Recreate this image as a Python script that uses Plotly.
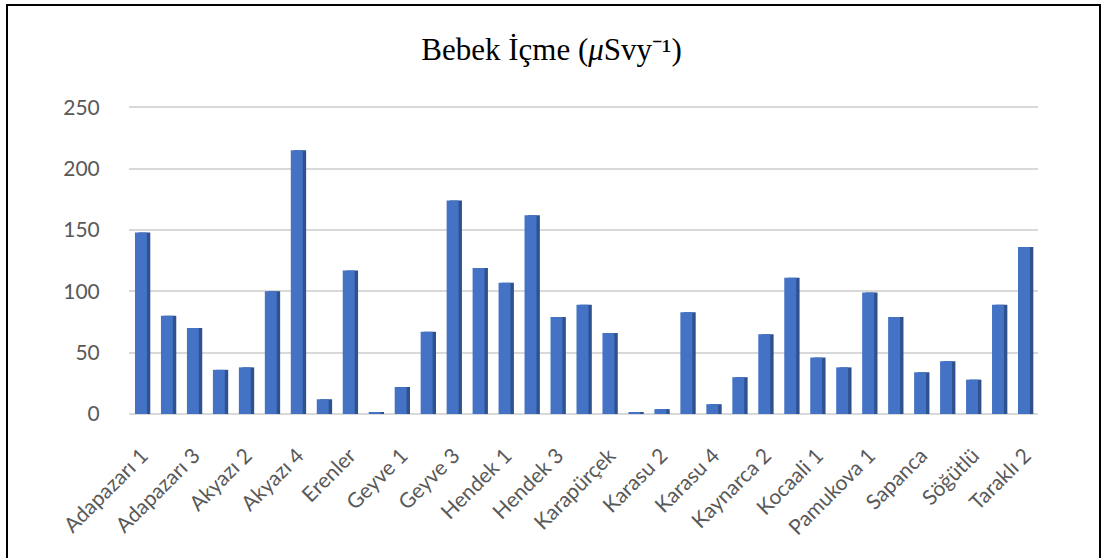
import plotly.graph_objects as go

categories = [
    "Adapazarı 1", "Adapazarı 2", "Adapazarı 3", "Akyazı 1", "Akyazı 2", "Akyazı 3", "Akyazı 4",
    "Arifiye", "Erenler", "Ferizli", "Geyve 1", "Geyve 2", "Geyve 3", "Geyve 4",
    "Hendek 1", "Hendek 2", "Hendek 3", "Hendek 4", "Karapürçek", "Karasu 1", "Karasu 2",
    "Karasu 3", "Karasu 4", "Kaynarca 1", "Kaynarca 2", "Kaynarca 3", "Kocaali 1", "Kocaali 2",
    "Pamukova 1", "Pamukova 2", "Sapanca", "Serdivan", "Söğütlü", "Taraklı 1", "Taraklı 2",
]
values = [
    148, 80, 70, 36, 38, 100, 215,
    12, 117, 1, 22, 67, 174, 119,
    107, 162, 79, 89, 66, 1, 4,
    83, 8, 30, 65, 111, 46, 38,
    99, 79, 34, 43, 28, 89, 136,
]
shown_labels = categories[::2]
y_ticks = [0, 50, 100, 150, 200, 250]
title_text = "Bebek İçme (<i>μ</i>Svy⁻¹)"

W, H = 1103, 558
ML, MR, MT, MB = 129, 65, 106, 144
pw, ph = W - ML - MR, H - MT - MB

fig = go.Figure()
# darker side of the 3D-looking bars
fig.add_trace(go.Bar(
    x=categories, y=values, width=0.46, offset=-0.14,
    marker=dict(color="#2F528F", line=dict(width=0)), hoverinfo="skip",
))
# front face
fig.add_trace(go.Bar(
    x=categories, y=values, width=0.46, offset=-0.27,
    marker=dict(color="#4472C4", line=dict(width=0)),
))

def px_x(p):
    return (p - ML) / pw

def px_y(p):
    return (H - MB - p) / ph

fig.add_shape(type="rect", xref="paper", yref="paper",
              x0=px_x(7), x1=px_x(1100), y0=px_y(562), y1=px_y(5),
              line=dict(color="black", width=2), layer="above")

fig.update_layout(
    width=W, height=H,
    margin=dict(l=ML, r=MR, t=MT, b=MB),
    barmode="overlay",
    showlegend=False,
    plot_bgcolor="white", paper_bgcolor="white",
    title=dict(text=title_text, x=0.5, xanchor="center", xref="container",
               y=1 - 49 / H, yanchor="middle", yref="container",
               font=dict(family="Liberation Serif", size=31, color="black")),
    font=dict(family="Lato", color="#595959"),
)
fig.update_xaxes(
    type="category", categoryorder="array", categoryarray=categories,
    tickmode="array", tickvals=shown_labels, ticktext=shown_labels,
    tickangle=-45, tickfont=dict(size=21, color="#595959"),
    ticks="outside", ticklen=20, tickcolor="rgba(0,0,0,0)",
    showgrid=False, showline=False, zeroline=False,
    range=[-0.5, len(categories) - 0.5],
)
fig.update_yaxes(
    range=[0, 251], tickmode="array", tickvals=y_ticks,
    tickfont=dict(size=21, color="#595959"),
    ticks="outside", ticklen=24, tickcolor="rgba(0,0,0,0)",
    showgrid=True, gridcolor="#D9D9D9", gridwidth=1.5,
    zeroline=True, zerolinecolor="#D9D9D9", zerolinewidth=1.5, showline=False,
)

fig.write_html("out.html", config={"displayModeBar": False},
               post_script="document.body.style.margin='0';document.body.style.overflow='hidden';")
